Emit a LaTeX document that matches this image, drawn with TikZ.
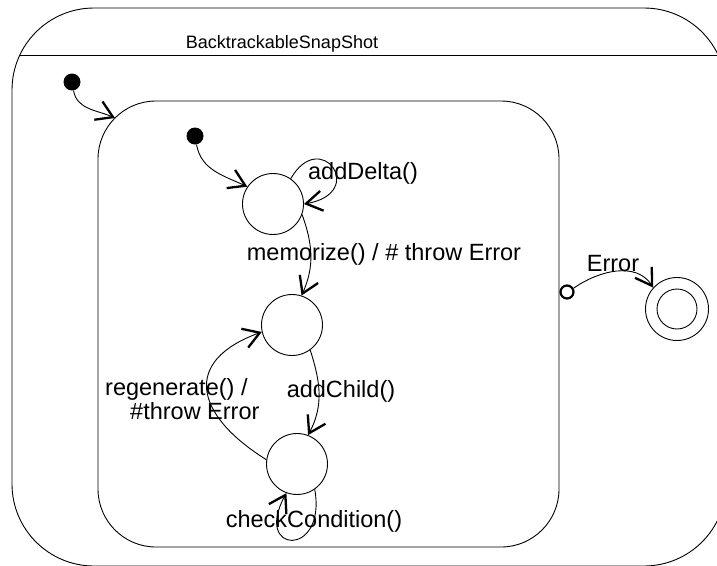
\documentclass[tikz,border=0pt]{standalone}
\usepackage{fontspec}
\setmainfont{Liberation Sans}
\usetikzlibrary{arrows.meta,positioning}
\tikzset{
  statenode/.style={circle, draw, line width=0.9pt, minimum size=61pt, inner sep=0pt},
  initnode/.style={circle, fill=black, minimum size=17pt, inner sep=0pt},
  pseudonode/.style={circle, draw, line width=2.2pt, minimum size=13pt, inner sep=0pt},
  finalnode/.style={statenode, minimum size=63pt},
  lbl/.style={font=\fontsize{23.5}{23.5}\selectfont, inner sep=0pt},
  trans/.style={-{Straight Barb[length=16pt, width=20pt, line width=2.3pt]}, line width=0.9pt},
}
\begin{document}
\begin{tikzpicture}[x=1pt, y=1pt]
  \useasboundingbox (0,0) rectangle (717,-565);
  % outer composite state (cut by the page)
  \begin{scope}
    \clip (0,0) rectangle (717,-565);
    \draw[line width=0.9pt, rounded corners=82pt] (12,-8) rectangle (726,-566);
    \draw[line width=0.9pt] (19.8,-55) -- (726,-55);
  \end{scope}
  \node[font=\fontsize{18}{21}\selectfont, inner sep=0pt] (title) at (282,-44) {BacktrackableSnapShot};
  % inner composite state
  \node[draw, line width=0.9pt, rounded corners=58pt, minimum width=461pt,
    minimum height=446pt, inner sep=0pt] (sub) at (328.5,-324) {};
  \coordinate (subentry) at (115,-118);
  \node[initnode] (init0) at (72,-82) {};
  \node[initnode] (init1) at (195,-136) {};
  \node[statenode] (s1) at (273,-204) {};
  \node[statenode] (s2) at (292,-325) {};
  \node[statenode] (s3) at (297,-464) {};
  \node[pseudonode] (err) at (567,-292) {};
  \node[finalnode] (fin) at (677,-309) {};
  \draw[line width=0.9pt] (fin.center) circle (20pt);
  % transitions
  \draw[trans] (init0) to[out=-80, in=156] (subentry);
  \draw[trans] (init1) to[out=-80, in=155] (s1.146);
  \draw[trans] (s1.55) to[out=60, in=10, out distance=60pt, in distance=65pt] (s1.0);
  \draw[trans] (s1.-20) to[out=-70, in=66] (s2.72);
  \draw[trans] (s2.-54) to[out=-72, in=62] (s3.69);
  \draw[trans] (s3.172) to[out=148, in=200, distance=85pt] (s2.193);
  \draw[trans] (s3.-55) to[out=-80, in=241, distance=70pt] (s3.-110);
  \draw[trans] (err.30) to[out=35, in=123] (fin.138);
  % labels
  \node[lbl] (ldelta) at (363,-173) {addDelta()};
  \node[lbl] (lmemo) at (384,-254) {memorize() / \# throw Error};
  \node[lbl] (lchild) at (341,-391) {addChild()};
  \node[lbl, align=left, anchor=west] (lregen) at (105,-399) {regenerate() /\\\hspace*{25pt}\#throw Error};
  \node[lbl] (lcheck) at (314,-521) {checkCondition()};
  \node[lbl] (lerr) at (613,-264) {Error};
\end{tikzpicture}
\end{document}
